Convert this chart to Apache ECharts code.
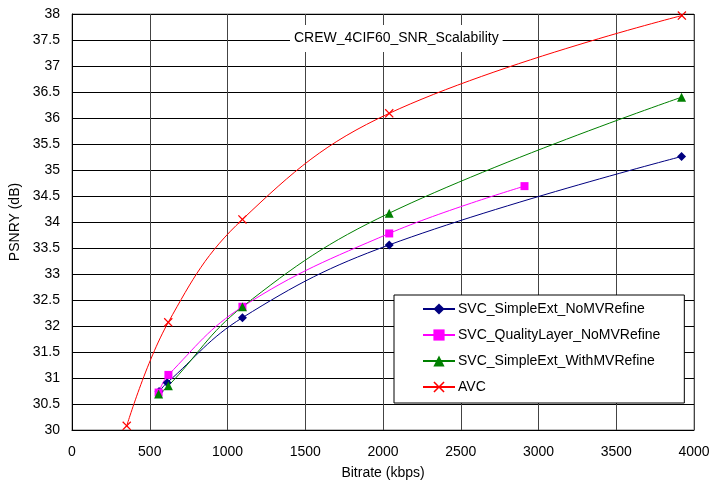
<!DOCTYPE html>
<html>
<head>
<meta charset="utf-8">
<script src="https://cdn.jsdelivr.net/npm/echarts@6/dist/echarts.min.js"></script>
<style>
  html, body { margin: 0; padding: 0; background: #fff; }
  #chart { width: 709px; height: 483px; }
</style>
</head>
<body>
<div id="chart"></div>
<script>
// Rate-distortion curves: bitrate (kbps) vs luma PSNR (dB)
const chartTitle = 'CREW_4CIF60_SNR_Scalability';
const seriesNames = [
  'SVC_SimpleExt_NoMVRefine',
  'SVC_QualityLayer_NoMVRefine',
  'SVC_SimpleExt_WithMVRefine',
  'AVC'
];

const simpleExtNoMV = [[560, 30.74], [612, 30.91], [1096, 32.16], [2040, 33.56], [3920, 35.26]];
const qualityLayerNoMV = [[557, 30.72], [620, 31.06], [1096, 32.37], [2040, 33.78], [2910, 34.69]];
const simpleExtWithMV = [[557, 30.69], [620, 30.85], [1096, 32.37], [2040, 34.17], [3920, 36.40]];
const avc = [[352, 30.08], [619, 32.07], [1096, 34.05], [2040, 36.09], [3922, 37.97]];

const FONT = '"Liberation Sans", Arial, sans-serif';
const crossPath = 'path://M0,1 L1,0 L5,4 L9,0 L10,1 L6,5 L10,9 L9,10 L5,6 L1,10 L0,9 L4,5 Z';

function lineSeries(name, data, color, symbol, size) {
  return {
    name: name,
    type: 'line',
    data: data,
    smooth: 0.4,
    symbol: symbol,
    symbolSize: size,
    showAllSymbol: true,
    lineStyle: { color: color, width: 1 },
    itemStyle: { color: color },
    emphasis: { disabled: true },
    animation: false
  };
}

const chart = echarts.init(document.getElementById('chart'), null, { renderer: 'canvas' });
chart.setOption({
  backgroundColor: '#fff',
  animation: false,
  textStyle: { fontFamily: FONT, color: '#000' },
  title: {
    text: chartTitle,
    left: 290,
    top: 25,
    padding: [6, 4, 7, 4],
    backgroundColor: '#fff',
    textStyle: { fontFamily: FONT, fontSize: 14, fontWeight: 'normal', color: '#000' }
  },
  grid: {
    left: 72, right: 15, top: 14, bottom: 53,
    containLabel: false,
    outerBoundsMode: 'none',
    show: true, borderColor: '#808080', borderWidth: 1
  },
  legend: {
    left: 394,
    top: 295,
    orient: 'vertical',
    backgroundColor: '#fff',
    borderColor: '#000',
    borderWidth: 1,
    padding: [7, 24, 9, 28],
    itemWidth: 32,
    itemHeight: 14,
    itemGap: 12,
    textStyle: { fontFamily: FONT, fontSize: 14, color: '#000', padding: [0, 0, 0, -2] },
    data: seriesNames
  },
  xAxis: {
    type: 'value',
    min: 0, max: 4000, interval: 500,
    name: 'Bitrate (kbps)',
    nameLocation: 'middle',
    nameGap: 36,
    nameTextStyle: { fontFamily: FONT, fontSize: 14, color: '#000' },
    axisLine: { show: true, lineStyle: { color: '#000', width: 1 } },
    axisTick: { show: false },
    axisLabel: { fontFamily: FONT, fontSize: 14, color: '#000', margin: 15, formatter: v => String(v) },
    splitLine: { show: true, lineStyle: { color: '#444', width: 1 } }
  },
  yAxis: {
    type: 'value',
    min: 30, max: 38, interval: 0.5,
    name: 'PSNRY (dB)',
    nameLocation: 'middle',
    nameGap: 50,
    nameRotate: 90,
    nameTextStyle: { fontFamily: FONT, fontSize: 14, color: '#000' },
    axisLine: { show: true, lineStyle: { color: '#000', width: 1 } },
    axisTick: { show: false },
    axisLabel: { fontFamily: FONT, fontSize: 14, color: '#000', margin: 12 },
    splitLine: { show: true, lineStyle: { color: '#000', width: 1 } }
  },
  series: [
    lineSeries(seriesNames[0], simpleExtNoMV, '#000080', 'diamond', 9),
    lineSeries(seriesNames[1], qualityLayerNoMV, '#FF00FF', 'rect', 8),
    lineSeries(seriesNames[2], simpleExtWithMV, '#008000', 'triangle', 9),
    lineSeries(seriesNames[3], avc, '#FF0000', crossPath, 9)
  ]
});
</script>
</body>
</html>
